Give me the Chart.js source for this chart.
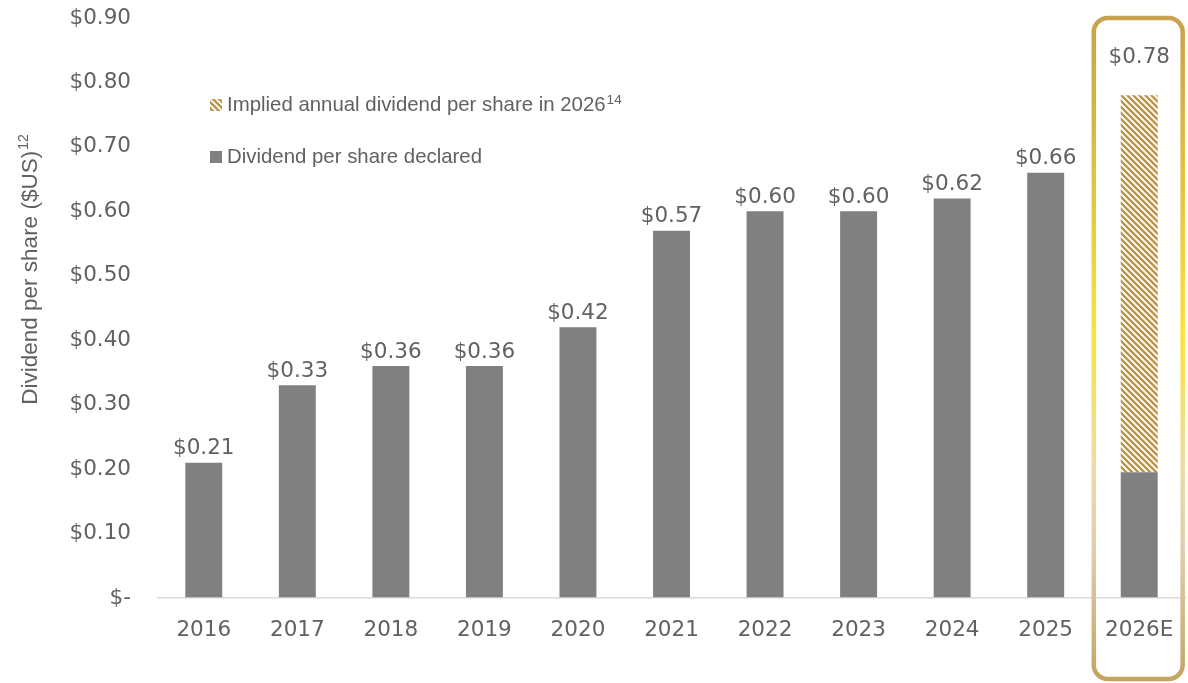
<!DOCTYPE html>
<html><head><meta charset="utf-8">
<script src="https://cdn.jsdelivr.net/npm/chart.js@4"></script>
<style>html,body{margin:0;padding:0;background:#fff}#wrap{width:1188px;height:683px}</style>
</head><body><div id="wrap"><canvas id="c" width="1188" height="683"></canvas></div>
<script>
// ---- data ----
const categories = ['2016','2017','2018','2019','2020','2021','2022','2023','2024','2025','2026E'];
const declared   = [0.21, 0.33, 0.36, 0.36, 0.42, 0.57, 0.60, 0.60, 0.62, 0.66, 0.195];
const implied    = [null, null, null, null, null, null, null, null, null, null, 0.585];
const yTickValues = [0, 0.1, 0.2, 0.3, 0.4, 0.5, 0.6, 0.7, 0.8, 0.9];
const declaredName = 'Dividend per share declared';
const impliedName = 'Implied annual dividend per share in 2026';
const impliedSup = '14';
const yTitle = 'Dividend per share ($US)';
const yTitleSup = '12';
const highlightCategory = '2026E';

// ---- styles ----
const TXT = '#616161';
const GRAY = '#808080';
const GOLD = '#b8954a';
const TICK_FONT = '21.5px "DejaVu Sans"';
const LEG_FONT = '20.4px "Liberation Sans"';

const ctx0 = document.getElementById('c').getContext('2d');
const hatch = ctx0.createPattern((function(){
  const s = 6, c = document.createElement('canvas');
  c.width = s; c.height = s;
  const g = c.getContext('2d');
  g.fillStyle = '#fff'; g.fillRect(0, 0, s, s);
  g.strokeStyle = GOLD; g.lineWidth = 2.4;
  g.beginPath();
  for (const k of [-s, 0, s]) { g.moveTo(k - 1, -1); g.lineTo(k + s + 1, s + 1); }
  g.stroke();
  return c;
})(), 'repeat');

const fmt = v => v === 0 ? '$-' : '$' + v.toFixed(2);

const boxPlugin = {
  id: 'box',
  afterDatasetsDraw(chart){
    const {ctx, chartArea, scales:{x}} = chart;
    const i = categories.indexOf(highlightCategory);
    const cx = x.getPixelForValue(i);
    const half = (x.width / categories.length) * 0.475;
    const top = chartArea.top, bottom = chart.height - 4;
    const grad = ctx.createLinearGradient(0, top, 0, bottom);
    grad.addColorStop(0, '#c8a24c');
    grad.addColorStop(0.18, '#dcb944');
    grad.addColorStop(0.48, '#fde23c');
    grad.addColorStop(0.68, '#ecdca6');
    grad.addColorStop(0.8, '#e0cfae');
    grad.addColorStop(1, '#c4a462');
    ctx.save();
    ctx.strokeStyle = grad; ctx.lineWidth = 4.5;
    ctx.beginPath();
    ctx.roundRect(cx - half - 1, top, half * 2, bottom - top, 14);
    ctx.stroke();
    ctx.restore();
  }
};

const labelsPlugin = {
  id: 'vlabels',
  afterDatasetsDraw(chart){
    const {ctx, chartArea} = chart;
    ctx.save();
    ctx.font = TICK_FONT; ctx.fillStyle = TXT;
    ctx.textAlign = 'center'; ctx.textBaseline = 'middle';
    categories.forEach((c, i) => {
      const total = (declared[i] || 0) + (implied[i] || 0);
      const topDs = implied[i] != null ? 1 : 0;
      const el = chart.getDatasetMeta(topDs).data[i];
      let y = el.y - 14;
      if (c === highlightCategory) y = chartArea.top + 39;
      ctx.fillText(fmt(Math.round(total * 100) / 100), el.x, y);
    });
    ctx.restore();
  }
};

const extrasPlugin = {
  id: 'extras',
  afterDraw(chart){
    const {ctx} = chart;
    ctx.save();
    // y title
    ctx.translate(31, 270);
    ctx.rotate(-Math.PI / 2);
    const TF = '22.5px "Liberation Sans"', SF = '14px "Liberation Sans"';
    ctx.font = TF;
    ctx.fillStyle = TXT; ctx.textBaseline = 'middle';
    const w = ctx.measureText(yTitle).width;
    ctx.font = SF;
    const ws = ctx.measureText(yTitleSup).width;
    const x0 = -(w + ws) / 2;
    ctx.font = TF;
    ctx.textAlign = 'left';
    ctx.fillText(yTitle, x0, 0);
    ctx.font = SF;
    ctx.fillText(yTitleSup, x0 + w + 1, -7);
    ctx.restore();

    // legend
    ctx.save();
    ctx.textBaseline = 'middle'; ctx.textAlign = 'left'; ctx.fillStyle = TXT;
    const items = [
      {name: impliedName, sup: impliedSup, fill: hatch, y: 105},
      {name: declaredName, sup: '', fill: GRAY, y: 157}
    ];
    for (const it of items) {
      ctx.fillStyle = it.fill;
      ctx.fillRect(210, it.y - 6, 12, 12);
      ctx.fillStyle = TXT;
      ctx.font = LEG_FONT;
      ctx.fillText(it.name, 227, it.y);
      if (it.sup) {
        const tw = ctx.measureText(it.name).width;
        ctx.font = '13.5px "Liberation Sans"';
        ctx.fillText(it.sup, 227 + tw + 1, it.y - 5);
      }
    }
    ctx.restore();
  }
};

new Chart(ctx0, {
  type: 'bar',
  data: {
    labels: categories,
    datasets: [
      {label: declaredName, data: declared, backgroundColor: GRAY, borderWidth: 0, stack: 's'},
      {label: impliedName, data: implied, backgroundColor: hatch, borderWidth: 0, stack: 's'}
    ]
  },
  options: {
    responsive: false, animation: false, devicePixelRatio: 1,
    categoryPercentage: 1, barPercentage: 0.395,
    layout: {padding: {top: 18, right: 2, left: 0, bottom: 0}},
    plugins: {legend: {display: false}, tooltip: {enabled: false}},
    scales: {
      x: {
        stacked: true,
        grid: {display: false}, border: {display: false},
        ticks: {color: TXT, font: {family: 'DejaVu Sans', size: 21.5}, padding: 12, maxRotation: 0},
        afterFit(s){ s.height = 85; s.paddingLeft = 0; s.paddingRight = 0; }
      },
      y: {
        stacked: true, min: 0, max: 0.9,
        afterBuildTicks(s){ s.ticks = yTickValues.map(v => ({value: v})); },
        grid: {drawTicks: false, lineWidth: 1.5, color: c => (c.tick && c.tick.value === 0) ? '#d9d9d9' : 'rgba(0,0,0,0)'},
        border: {display: false},
        ticks: {color: TXT, font: {family: 'DejaVu Sans', size: 21.5}, padding: 26, callback: v => fmt(v)},
        afterFit(s){ s.width = 157; s.paddingTop = 0; s.paddingBottom = 0; }
      }
    }
  },
  plugins: [boxPlugin, labelsPlugin, extrasPlugin]
});
</script></body></html>
